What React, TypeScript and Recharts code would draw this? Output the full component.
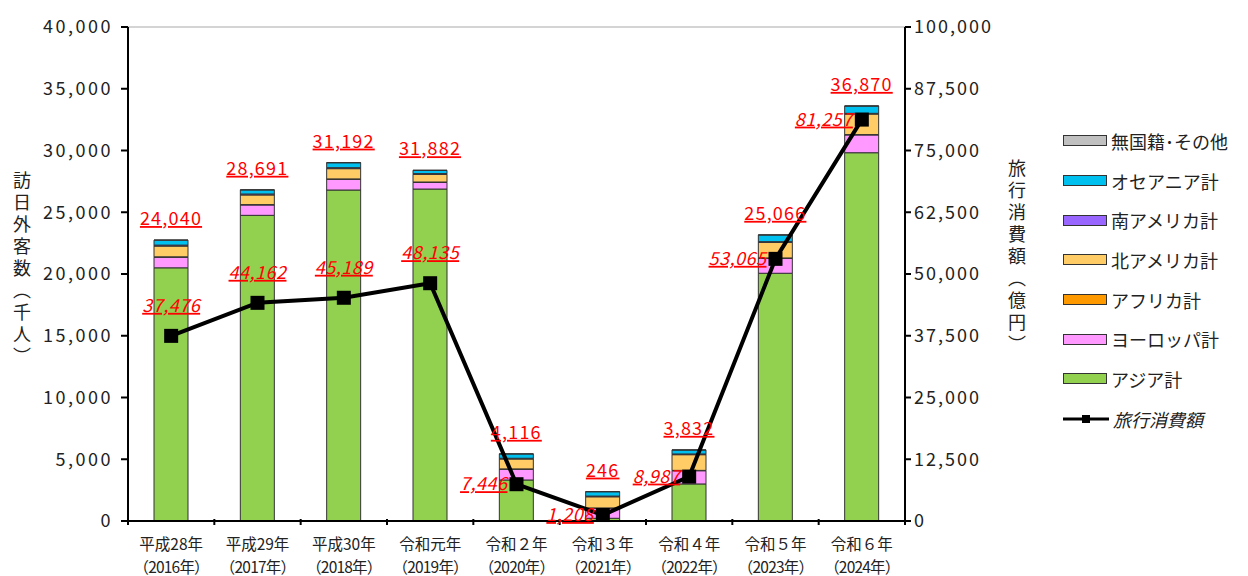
import React from 'react';
import {
  ComposedChart,
  Bar,
  Line,
  XAxis,
  YAxis,
  CartesianGrid,
  LabelList,
  Label,
} from 'recharts';

const FONT = "'Noto Sans CJK JP', 'Noto Sans', sans-serif";

const eras = ['平成28年', '平成29年', '平成30年', '令和元年', '令和２年', '令和３年', '令和４年', '令和５年', '令和６年'];
const years = ['（2016年）', '（2017年）', '（2018年）', '（2019年）', '（2020年）', '（2021年）', '（2022年）', '（2023年）', '（2024年）'];

// 訪日外客数（千人） by region
const asia = [20500, 24750, 26800, 26880, 3320, 220, 3000, 20060, 29820];
const europe = [860, 840, 870, 540, 870, 810, 1070, 1210, 1440];
const africa = [30, 30, 30, 30, 30, 30, 30, 30, 30];
const northAmerica = [870, 780, 830, 620, 800, 900, 1270, 1260, 1660];
const southAmerica = [80, 80, 80, 60, 60, 60, 60, 60, 60];
const oceania = [400, 330, 400, 260, 350, 350, 320, 540, 590];
const others = [10, 10, 10, 10, 10, 10, 10, 10, 10];

// red totals printed above the bars
const visitorTotals = [24040, 28691, 31192, 31882, 4116, 246, 3832, 25066, 36870];
// 旅行消費額（億円）
const spending = [37476, 44162, 45189, 48135, 7446, 1208, 8987, 53065, 81257];

const leftTicks = [0, 5000, 10000, 15000, 20000, 25000, 30000, 35000, 40000];
const rightTicks = [0, 12500, 25000, 37500, 50000, 62500, 75000, 87500, 100000];

const series = [
  { key: 'others', name: '無国籍･その他', color: '#c0c0c0' },
  { key: 'oceania', name: 'オセアニア計', color: '#00c0f0' },
  { key: 'southAmerica', name: '南アメリカ計', color: '#9966ff' },
  { key: 'northAmerica', name: '北アメリカ計', color: '#ffcc66' },
  { key: 'africa', name: 'アフリカ計', color: '#ff9900' },
  { key: 'europe', name: 'ヨーロッパ計', color: '#ff99ff' },
  { key: 'asia', name: 'アジア計', color: '#92d050' },
];

const data = eras.map((era, i) => ({
  era,
  year: years[i],
  asia: asia[i],
  europe: europe[i],
  africa: africa[i],
  northAmerica: northAmerica[i],
  southAmerica: southAmerica[i],
  oceania: oceania[i],
  others: others[i],
  total: visitorTotals[i],
  spending: spending[i],
}));

const fmt = (v: number) => v.toLocaleString('en-US');

const XTick = (props: any) => {
  const { x, y, payload, index } = props;
  const half = payload.offset || 0;
  const axisY = y - 10;
  return (
    <g>
      <line x1={x - half} y1={axisY} x2={x - half} y2={axisY + 6} stroke="#000" strokeWidth={2} />
      {index === eras.length - 1 && (
        <line x1={x + half} y1={axisY} x2={x + half} y2={axisY + 6} stroke="#000" strokeWidth={2} />
      )}
      <text x={x} y={y + 21} textAnchor="middle" fill="#222" fontFamily={FONT}>
        <tspan x={x} fontSize={15.5} letterSpacing={0}>{eras[index]}</tspan>
        <tspan x={x} dy={22.5} fontSize={15.5} letterSpacing={-0.8}>{years[index]}</tspan>
      </text>
    </g>
  );
};

const Square = (props: any) => {
  const { cx, cy } = props;
  if (cx == null || cy == null) return null;
  return <rect x={cx - 7} y={cy - 7} width={14} height={14} fill="#000" />;
};

const TotalLabel = (props: any) => {
  const { x, y, width, index } = props;
  return (
    <text
      x={x + width / 2}
      y={y - 15}
      textAnchor="middle"
      fontSize={18}
      fill="#ff0000"
      fontFamily={FONT}
      letterSpacing={1.2}
      style={{ textDecoration: 'underline' }}
    >
      {fmt(visitorTotals[index])}
    </text>
  );
};

const SpendLabel = (props: any) => {
  const { x, y, index } = props;
  const above = index < 4;
  return (
    <text
      x={above ? x : x - 9}
      y={above ? y - 24 : y + 6}
      textAnchor={above ? 'middle' : 'end'}
      fontSize={18}
      fontStyle="italic"
      fill="#ff0000"
      fontFamily={FONT}
      letterSpacing={0.5}
      style={{ textDecoration: 'underline' }}
    >
      {fmt(spending[index])}
    </text>
  );
};

const VerticalTitle = (text: string, x: number, y: number) => (props: any) => (
  <text
    x={x}
    y={y}
    fontSize={18}
    fill="#222"
    fontFamily={FONT}
    textAnchor="middle"
    style={{ writingMode: 'vertical-rl', letterSpacing: 4 } as any}
  >
    {text}
  </text>
);

const LegendBox = () => (
  <div
    style={{
      position: 'absolute',
      left: 1063,
      top: 121,
      fontFamily: FONT,
      fontSize: 18,
      color: '#222',
    }}
  >
    {series.map((s) => (
      <div key={s.key} style={{ display: 'flex', alignItems: 'center', height: 39.7 }}>
        <span
          style={{
            display: 'inline-block',
            width: 42,
            height: 9,
            background: s.color,
            border: '1px solid #333',
            marginRight: 4,
          }}
        />
        <span>{s.name}</span>
      </div>
    ))}
    <div style={{ display: 'flex', alignItems: 'center', height: 39.7 }}>
      <svg width={48} height={12} style={{ marginRight: 2 }}>
        <line x1={0} y1={6} x2={46} y2={6} stroke="#000" strokeWidth={3} />
        <rect x={19} y={2} width={8} height={8} fill="#000" />
      </svg>
      <span style={{ fontStyle: 'italic' }}>旅行消費額</span>
    </div>
  </div>
);

export default function App() {
  const stack = [...series].reverse();
  return (
    <div style={{ position: 'absolute', left: 0, top: 0, width: 1248, height: 576, background: '#fff' }}>
      <ComposedChart
        width={1248}
        height={576}
        data={data}
        margin={{ top: 27, right: 213, bottom: 0, left: 0 }}
        barCategoryGap={0}
      >
        <CartesianGrid vertical={false} stroke="#d4d4d4" strokeWidth={2} />
        <XAxis
          dataKey="era"
          height={55}
          tickLine={false}
          axisLine={{ stroke: '#000', strokeWidth: 2 }}
          tick={<XTick />}
          interval={0}
        />
        <YAxis
          yAxisId="left"
          width={128}
          domain={[0, 40000]}
          ticks={leftTicks}
          tickFormatter={fmt}
          axisLine={{ stroke: '#000', strokeWidth: 2 }}
          tickLine={{ stroke: '#000', strokeWidth: 2 }}
          tickSize={7}
          tickMargin={8}
          tick={{ fontSize: 18, fill: '#222', fontFamily: FONT, letterSpacing: 2.5 }}
          interval={0}
        >
          <Label content={VerticalTitle('訪日外客数（千人）', 22, 270)} />
        </YAxis>
        <YAxis
          yAxisId="right"
          orientation="right"
          width={130}
          domain={[0, 100000]}
          ticks={rightTicks}
          tickFormatter={fmt}
          axisLine={{ stroke: '#000', strokeWidth: 2 }}
          tickLine={{ stroke: '#000', strokeWidth: 2 }}
          tickSize={6}
          tickMargin={3}
          tick={{ fontSize: 18, fill: '#222', fontFamily: FONT, letterSpacing: 2 }}
          interval={0}
        >
          <Label content={VerticalTitle('旅行消費額（億円）', 1017, 258)} />
        </YAxis>
        {stack.map((s, i) => (
          <Bar
            key={s.key}
            yAxisId="left"
            dataKey={s.key}
            name={s.name}
            stackId="visitors"
            fill={s.color}
            stroke="#333"
            strokeWidth={1}
            barSize={34}
            isAnimationActive={false}
          >
            {i === stack.length - 1 && <LabelList dataKey="total" content={<TotalLabel />} />}
          </Bar>
        ))}
        <Line
          yAxisId="right"
          dataKey="spending"
          name="旅行消費額"
          stroke="#000"
          strokeWidth={4}
          dot={<Square />}
          activeDot={false}
          isAnimationActive={false}
        >
          <LabelList dataKey="spending" content={<SpendLabel />} />
        </Line>
      </ComposedChart>
      <LegendBox />
    </div>
  );
}
